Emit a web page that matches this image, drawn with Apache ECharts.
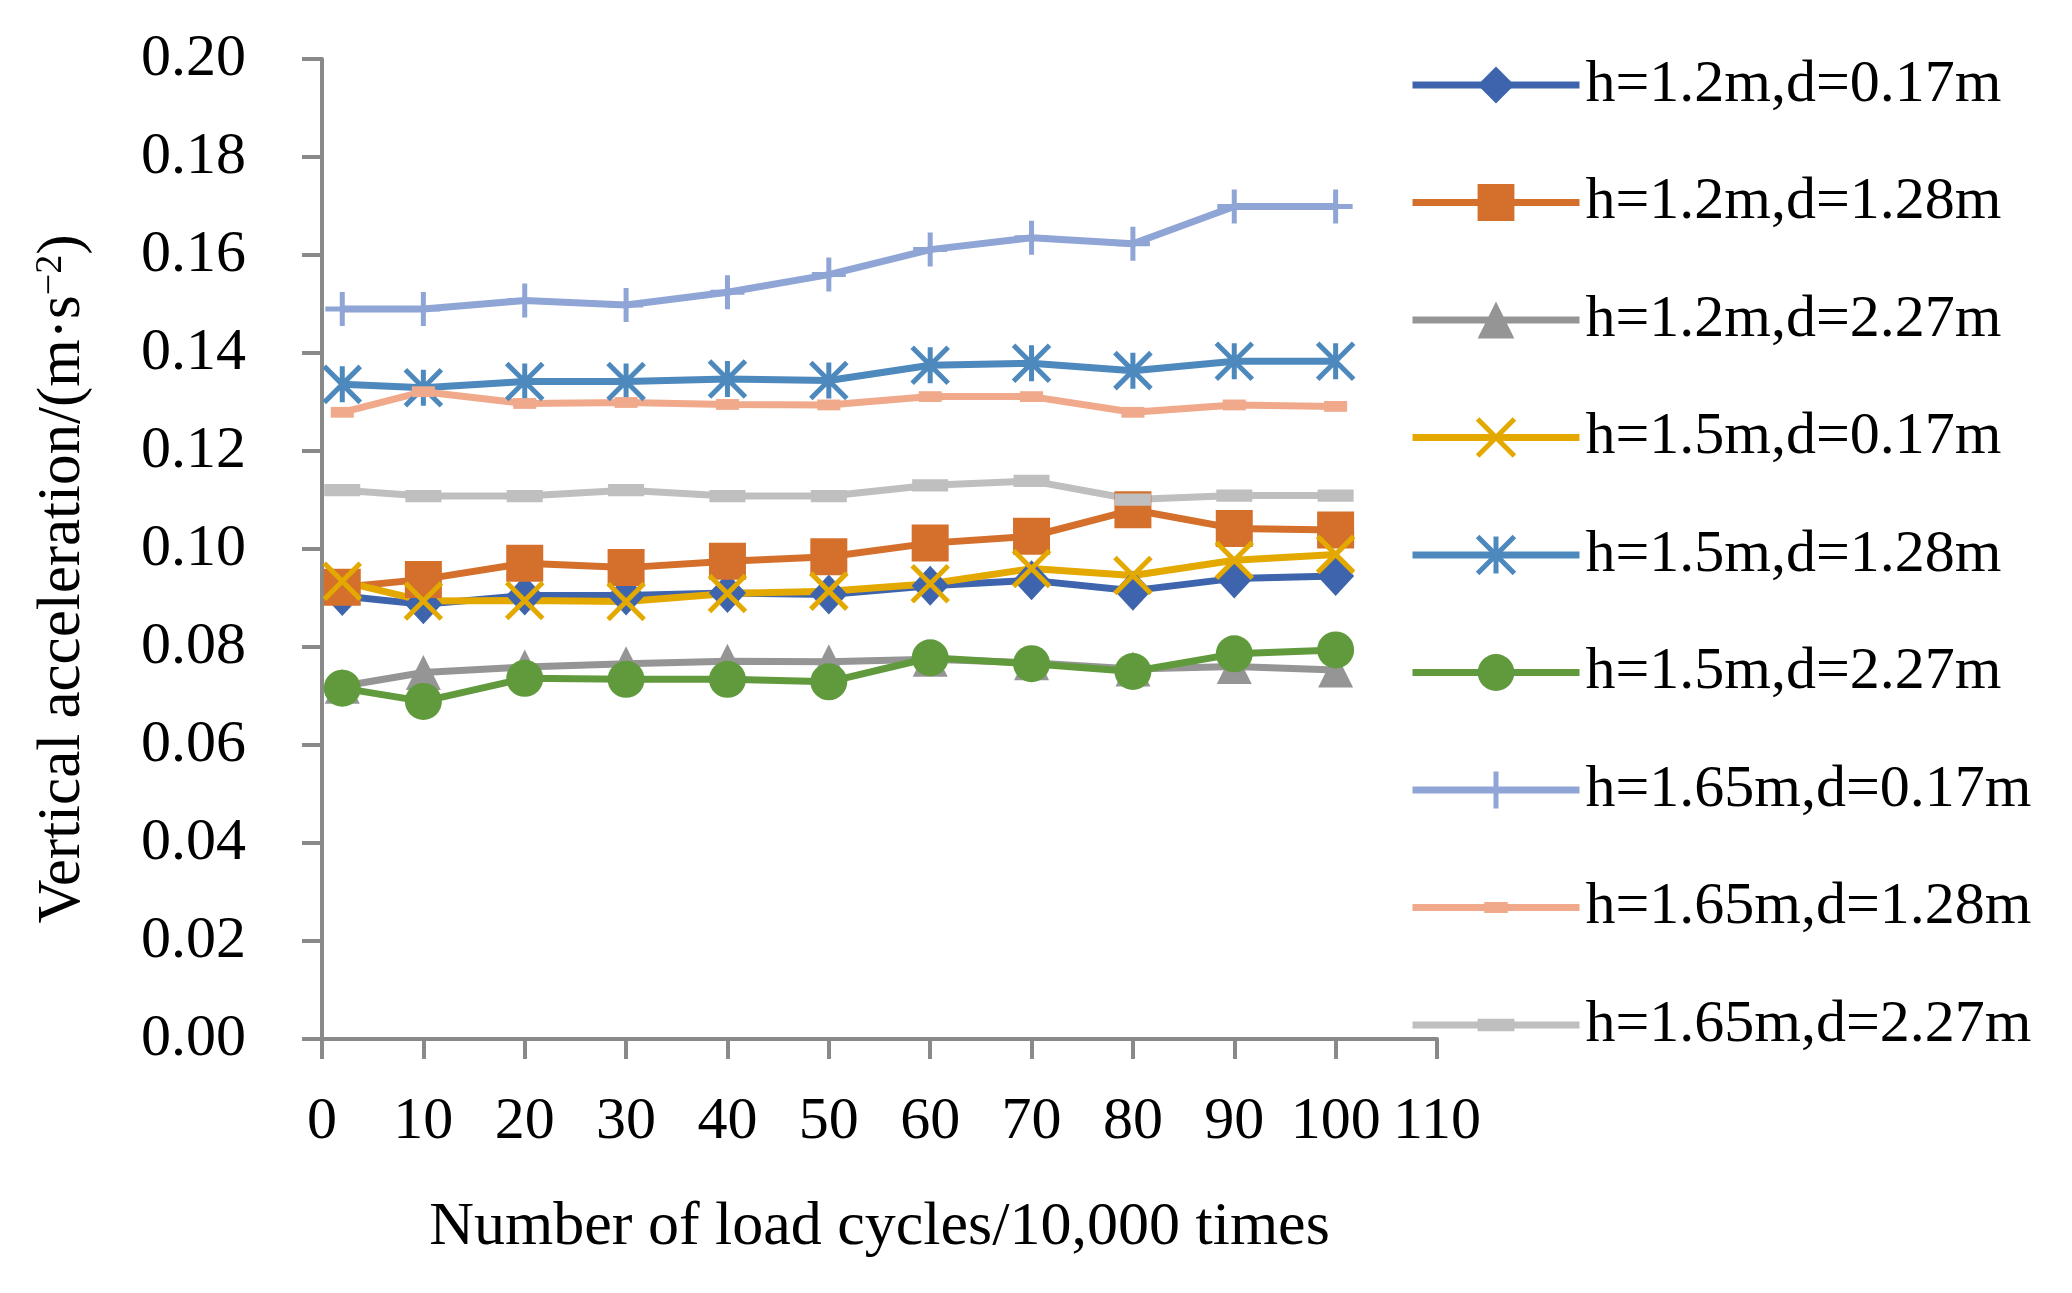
<!DOCTYPE html>
<html>
<head>
<meta charset="utf-8">
<script src="https://cdn.jsdelivr.net/npm/echarts@6/dist/echarts.min.js"></script>
<style>
html,body{margin:0;padding:0;background:#ffffff;}
#chart{width:2072px;height:1293px;}
</style>
</head>
<body>
<div id="chart"></div>
<script>
// ---- data ----
const cycles = [2, 10, 20, 30, 40, 50, 60, 70, 80, 90, 100];
const seriesNames = [
  'h=1.2m,d=0.17m', 'h=1.2m,d=1.28m', 'h=1.2m,d=2.27m',
  'h=1.5m,d=0.17m', 'h=1.5m,d=1.28m', 'h=1.5m,d=2.27m',
  'h=1.65m,d=0.17m', 'h=1.65m,d=1.28m', 'h=1.65m,d=2.27m'
];
const h12d017 = [0.0904, 0.0887, 0.0905, 0.0905, 0.0910, 0.0907, 0.0925, 0.0936, 0.0915, 0.0940, 0.0945];
const h12d128 = [0.0922, 0.0938, 0.0971, 0.0962, 0.0975, 0.0984, 0.1012, 0.1026, 0.1080, 0.1042, 0.1039];
const h12d227 = [0.0720, 0.0748, 0.0759, 0.0766, 0.0771, 0.0770, 0.0775, 0.0768, 0.0755, 0.0760, 0.0753];
const h15d017 = [0.0934, 0.0894, 0.0895, 0.0893, 0.0909, 0.0914, 0.0929, 0.0960, 0.0946, 0.0977, 0.0989];
const h15d128 = [0.1336, 0.1329, 0.1342, 0.1342, 0.1347, 0.1344, 0.1375, 0.1379, 0.1364, 0.1383, 0.1383];
const h15d227 = [0.0716, 0.0689, 0.0736, 0.0734, 0.0734, 0.0729, 0.0778, 0.0766, 0.0750, 0.0786, 0.0794];
const h165d017 = [0.1490, 0.1490, 0.1507, 0.1498, 0.1524, 0.1560, 0.1611, 0.1635, 0.1623, 0.1699, 0.1699];
const h165d128 = [0.1279, 0.1321, 0.1297, 0.1299, 0.1295, 0.1294, 0.1311, 0.1311, 0.1279, 0.1294, 0.1291];
const h165d227 = [0.1120, 0.1108, 0.1108, 0.1120, 0.1108, 0.1108, 0.1130, 0.1139, 0.1101, 0.1109, 0.1109];
const allValues = [h12d017, h12d128, h12d227, h15d017, h15d128, h15d227, h165d017, h165d128, h165d227];
const xAxisRange = [0, 110, 10];
const yAxisRange = [0, 0.20, 0.02];

// ---- styles ----
const colors = ['#3E64AD', '#D4702C', '#959595', '#E3A900', '#4E89BD', '#619A3D', '#8FA5D5', '#F0A98A', '#BFBFBF'];
const symbols = [
  'diamond', 'rect', 'triangle',
  'path://M0 0L100 100M100 0L0 100',
  'path://M0 0L100 100M100 0L0 100M50 0L50 100',
  'circle',
  'path://M50 0L50 100M0 50L100 50',
  'path://M0 0M100 100M18 35L82 35L82 65L18 65Z',
  'path://M0 0M100 100M0 33L100 33L100 67L0 67Z'
];
const symbolSizes = [[37, 40], 37, 35, 36, 36, 37, 34, 36, 36];
const strokeOnly = [false, false, false, true, true, false, true, false, false];
const FONT = 'Liberation Serif';
const AXIS_GRAY = '#898989';

const series = allValues.map((vals, i) => ({
  name: seriesNames[i],
  type: 'line',
  data: cycles.map((x, j) => [x, vals[j]]),
  symbol: symbols[i],
  symbolSize: symbolSizes[i],
  showAllSymbol: true,
  lineStyle: { color: colors[i], width: 7 },
  itemStyle: strokeOnly[i]
    ? { color: colors[i], borderColor: colors[i], borderWidth: 5 }
    : { color: colors[i], borderColor: colors[i], borderWidth: 0 },
  emphasis: { disabled: true },
  animation: false
}));

const chart = echarts.init(document.getElementById('chart'));
chart.setOption({
  backgroundColor: '#ffffff',
  animation: false,
  grid: { left: 322, right: 635, top: 59, bottom: 254, containLabel: false },
  legend: {
    orient: 'vertical',
    left: 1409,
    top: 55,
    padding: 0,
    itemWidth: 167,
    itemHeight: 46,
    itemGap: 57.5,
    selectedMode: false,
    lineStyle: { width: 7 },
    itemStyle: { borderWidth: 5 },
    textStyle: { fontFamily: FONT, fontSize: 60, color: '#000000', lineHeight: 46, padding: [0, 0, 0, 1] },
    data: seriesNames.map((n, i) => ({
      name: n,
      itemStyle: { borderWidth: strokeOnly[i] ? 5 : 0 }
    }))
  },
  xAxis: {
    type: 'value',
    min: xAxisRange[0], max: xAxisRange[1], interval: xAxisRange[2],
    name: 'Number of load cycles/10,000 times',
    nameLocation: 'middle',
    nameGap: 158,
    nameTextStyle: { fontFamily: FONT, fontSize: 62, color: '#000000' },
    axisLine: { show: true, lineStyle: { color: AXIS_GRAY, width: 4 } },
    axisTick: { show: true, inside: false, length: 20, lineStyle: { color: AXIS_GRAY, width: 4 } },
    axisLabel: { fontFamily: FONT, fontSize: 60, color: '#000000', margin: 53 },
    splitLine: { show: false }
  },
  yAxis: {
    type: 'value',
    min: yAxisRange[0], max: yAxisRange[1], interval: yAxisRange[2],
    name: 'Vertical acceleration/(m·s{sup|−2})',
    nameLocation: 'middle',
    nameGap: 229,
    nameTextStyle: {
      fontFamily: FONT, fontSize: 61, color: '#000000', padding: [0, 60, 0, 0],
      rich: { sup: { fontFamily: FONT, fontSize: 38, color: '#000000', verticalAlign: 'top', lineHeight: 60 } }
    },
    axisLine: { show: true, lineStyle: { color: AXIS_GRAY, width: 4 } },
    axisTick: { show: true, inside: false, length: 20, lineStyle: { color: AXIS_GRAY, width: 4 } },
    axisLabel: { fontFamily: FONT, fontSize: 60, color: '#000000', margin: 76, formatter: v => v.toFixed(2) },
    splitLine: { show: false }
  },
  series: series
});
</script>
</body>
</html>
